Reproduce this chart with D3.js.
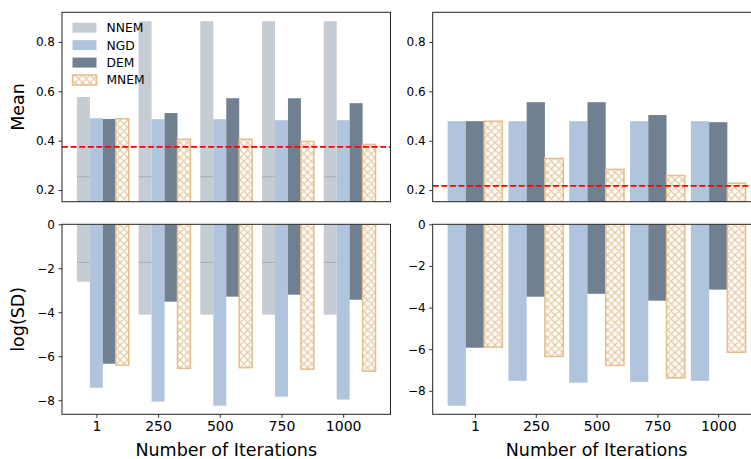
<!DOCTYPE html>
<html>
<head>
<meta charset="utf-8">
<script src="https://cdn.jsdelivr.net/npm/d3@7"></script>
<style>
  body { margin: 0; background: #fff; }
  text { font-family: "DejaVu Sans", sans-serif; fill: #000; }
</style>
</head>
<body>
<div id="chart"></div>
<script>
// categories
var iterations = ['1', '250', '500', '750', '1000'];
var seriesNames = ['NNEM', 'NGD', 'DEM', 'MNEM'];

// left column, mean
var meanNNEM = [0.577, 0.884, 0.884, 0.884, 0.884];
var meanNNEMInner = [0.254, 0.254, 0.254, 0.254, 0.254];
var meanNGD = [0.491, 0.487, 0.487, 0.483, 0.483];
var meanDEM = [0.488, 0.512, 0.572, 0.572, 0.552];
var meanMNEM = [0.489, 0.406, 0.406, 0.397, 0.385];
var meanRefLeft = 0.375;

// left column, log(SD)
var sdNNEM = [-2.61, -4.11, -4.11, -4.11, -4.11];
var sdNNEMInner = [-1.73, -1.73, -1.73, -1.73, -1.73];
var sdNGD = [-7.43, -8.06, -8.25, -7.84, -7.97];
var sdDEM = [-6.34, -3.52, -3.29, -3.20, -3.43];
var sdMNEM = [-6.40, -6.55, -6.52, -6.59, -6.68];

// right column, mean
var meanNGD2 = [0.479, 0.479, 0.479, 0.479, 0.479];
var meanDEM2 = [0.479, 0.556, 0.556, 0.504, 0.475];
var meanMNEM2 = [0.479, 0.328, 0.284, 0.259, 0.228];
var meanRefRight = 0.217;

// right column, log(SD)
var sdNGD2 = [-8.72, -7.52, -7.61, -7.57, -7.52];
var sdDEM2 = [-5.93, -3.48, -3.34, -3.67, -3.14];
var sdMNEM2 = [-5.90, -6.35, -6.78, -7.38, -6.15];

// tick labels
var meanTicks = [0.2, 0.4, 0.6, 0.8];
var sdTicks = [0, -2, -4, -6, -8];

var colors = {
    NNEM: '#c6ccd3',
    NNEMline: '#a3adb8',
    NGD: '#b0c4de',
    DEM: '#708090',
    MNEM: '#e2bf8e'
};

var width = 751, height = 459;

var svg = d3.select('#chart').append('svg')
    .attr('width', width)
    .attr('height', height);

var defs = svg.append('defs');

// hatch for MNEM
var hp = 7.5;
var hatch = defs.append('pattern')
    .attr('id', 'hatch')
    .attr('patternUnits', 'userSpaceOnUse')
    .attr('width', hp)
    .attr('height', hp);
hatch.append('rect').attr('width', hp).attr('height', hp).attr('fill', '#fff');
hatch.append('path')
    .attr('d', 'M0,' + hp + 'L' + hp + ',0M-1,1L1,-1M' + (hp - 1) + ',' + (hp + 1) + 'L' + (hp + 1) + ',' + (hp - 1) +
               'M0,0L' + hp + ',' + hp + 'M-1,' + (hp - 1) + 'L1,' + (hp + 1) + 'M' + (hp - 1) + ',-1L' + (hp + 1) + ',1')
    .attr('stroke', '#e8c79c')
    .attr('stroke-width', 1.3)
    .attr('fill', 'none');

var panelId = 0;

function drawPanel(cfg){
    var id = 'clip' + (panelId++);
    defs.append('clipPath').attr('id', id)
        .append('rect')
        .attr('x', cfg.x0).attr('y', cfg.y0)
        .attr('width', cfg.x1 - cfg.x0).attr('height', cfg.y1 - cfg.y0);

    var x = d3.scaleLinear().domain(cfg.xDomain).range([cfg.x0, cfg.x1]);
    var y = d3.scaleLinear().domain(cfg.yDomain).range([cfg.y1, cfg.y0]);
    var barW = x(cfg.barWidth) - x(0);

    var g = svg.append('g').attr('clip-path', 'url(#' + id + ')');

    cfg.series.forEach(function(s){
        var bars = g.selectAll(null)
            .data(s.values)
            .enter().append('rect')
            .attr('x', function(d, i){ return x(i + s.offset) - barW / 2; })
            .attr('width', barW)
            .attr('y', function(d){ return Math.min(y(d), y(0)); })
            .attr('height', function(d){ return Math.abs(y(d) - y(0)); });
        if(s.name == 'MNEM'){
            bars.attr('fill', 'url(#hatch)')
                .attr('stroke', colors.MNEM)
                .attr('stroke-width', 1.5);
        } else {
            bars.attr('fill', colors[s.name]);
        }
        // inner line on NNEM bars
        if(s.inner){
            g.selectAll(null)
                .data(s.inner)
                .enter().append('line')
                .attr('x1', function(d, i){ return x(i + s.offset) - barW / 2; })
                .attr('x2', function(d, i){ return x(i + s.offset) + barW / 2; })
                .attr('y1', function(d){ return y(d); })
                .attr('y2', function(d){ return y(d); })
                .attr('stroke', colors.NNEMline)
                .attr('stroke-width', 1);
        }
    });

    if(cfg.ref !== undefined){
        g.append('line')
            .attr('x1', cfg.x0).attr('x2', cfg.x1)
            .attr('y1', y(cfg.ref)).attr('y2', y(cfg.ref))
            .attr('stroke', '#f00')
            .attr('stroke-width', 1.8)
            .attr('stroke-dasharray', '6,2.6');
    }

    // y axis
    var yAxis = svg.append('g')
        .attr('transform', 'translate(' + cfg.x0 + ',0)')
        .call(d3.axisLeft(y).tickValues(cfg.yTicks).tickFormat(cfg.yFormat)
            .tickSize(3.5).tickPadding(3.5));
    yAxis.select('.domain').remove();
    yAxis.selectAll('line').attr('stroke', '#000').attr('stroke-width', 0.8);
    yAxis.selectAll('text').style('font-size', '12px').attr('fill', '#000');

    // x axis
    if(cfg.xTicks){
        var xAxis = svg.append('g')
            .attr('transform', 'translate(0,' + cfg.y1 + ')')
            .call(d3.axisBottom(x).tickValues(d3.range(iterations.length))
                .tickFormat(function(i){ return iterations[i]; })
                .tickSize(3.5).tickPadding(3.5));
        xAxis.select('.domain').remove();
        xAxis.selectAll('line').attr('stroke', '#000').attr('stroke-width', 0.8);
        xAxis.selectAll('text').style('font-size', '14px').attr('fill', '#000');

        svg.append('text')
            .attr('x', (cfg.x0 + cfg.x1) / 2)
            .attr('y', 456)
            .attr('text-anchor', 'middle')
            .style('font-size', '17.5px')
            .text('Number of Iterations');
    }

    // frame
    svg.append('rect')
        .attr('x', cfg.x0).attr('y', cfg.y0)
        .attr('width', cfg.x1 - cfg.x0).attr('height', cfg.y1 - cfg.y0)
        .attr('fill', 'none')
        .attr('stroke', '#222')
        .attr('stroke-width', 1);

    if(cfg.yLabel){
        svg.append('text')
            .attr('transform', 'translate(24,' + (cfg.y0 + cfg.y1) / 2 + ') rotate(-90)')
            .attr('text-anchor', 'middle')
            .style('font-size', '17.5px')
            .text(cfg.yLabel);
    }
}

var fmtMean = d3.format('.1f');
var fmtSd = d3.format('d');

var leftX = [62, 390.5], rightX = [432.7, 760.5];
var topY = [12.3, 201.7], botY = [224.3, 414.3];
var leftDom = [-0.557, 4.767], rightDom = [-0.695, 4.695];

drawPanel({
    x0: leftX[0], x1: leftX[1], y0: topY[0], y1: topY[1],
    xDomain: leftDom, yDomain: [0.153, 0.92], barWidth: 0.21,
    series: [
        {name: 'NNEM', values: meanNNEM, offset: -0.21, inner: meanNNEMInner},
        {name: 'NGD', values: meanNGD, offset: 0},
        {name: 'DEM', values: meanDEM, offset: 0.21},
        {name: 'MNEM', values: meanMNEM, offset: 0.42}
    ],
    ref: meanRefLeft, yTicks: meanTicks, yFormat: fmtMean, yLabel: 'Mean'
});

drawPanel({
    x0: leftX[0], x1: leftX[1], y0: botY[0], y1: botY[1],
    xDomain: leftDom, yDomain: [-8.64, 0], barWidth: 0.21,
    series: [
        {name: 'NNEM', values: sdNNEM, offset: -0.21, inner: sdNNEMInner},
        {name: 'NGD', values: sdNGD, offset: 0},
        {name: 'DEM', values: sdDEM, offset: 0.21},
        {name: 'MNEM', values: sdMNEM, offset: 0.42}
    ],
    yTicks: sdTicks, yFormat: fmtSd, yLabel: 'log(SD)', xTicks: true
});

drawPanel({
    x0: rightX[0], x1: rightX[1], y0: topY[0], y1: topY[1],
    xDomain: rightDom, yDomain: [0.153, 0.92], barWidth: 0.3,
    series: [
        {name: 'NGD', values: meanNGD2, offset: -0.3},
        {name: 'DEM', values: meanDEM2, offset: 0},
        {name: 'MNEM', values: meanMNEM2, offset: 0.3}
    ],
    ref: meanRefRight, yTicks: meanTicks, yFormat: fmtMean
});

drawPanel({
    x0: rightX[0], x1: rightX[1], y0: botY[0], y1: botY[1],
    xDomain: rightDom, yDomain: [-9.13, 0], barWidth: 0.3,
    series: [
        {name: 'NGD', values: sdNGD2, offset: -0.3},
        {name: 'DEM', values: sdDEM2, offset: 0},
        {name: 'MNEM', values: sdMNEM2, offset: 0.3}
    ],
    yTicks: sdTicks, yFormat: fmtSd, xTicks: true
});

// legend
var legend = svg.append('g');
var legendY = d3.scalePoint().domain(seriesNames).range([27.7, 80]);
seriesNames.forEach(function(name){
    var cy = legendY(name);
    var r = legend.append('rect')
        .attr('x', 72.5).attr('y', cy - 5)
        .attr('width', 24).attr('height', 10);
    if(name == 'MNEM'){
        r.attr('fill', 'url(#hatch)').attr('stroke', colors.MNEM).attr('stroke-width', 1.5);
    } else {
        r.attr('fill', colors[name]);
    }
    legend.append('text')
        .attr('x', 106.5).attr('y', cy)
        .attr('dy', '0.36em')
        .style('font-size', '12.3px')
        .text(name);
});
</script>
</body>
</html>
